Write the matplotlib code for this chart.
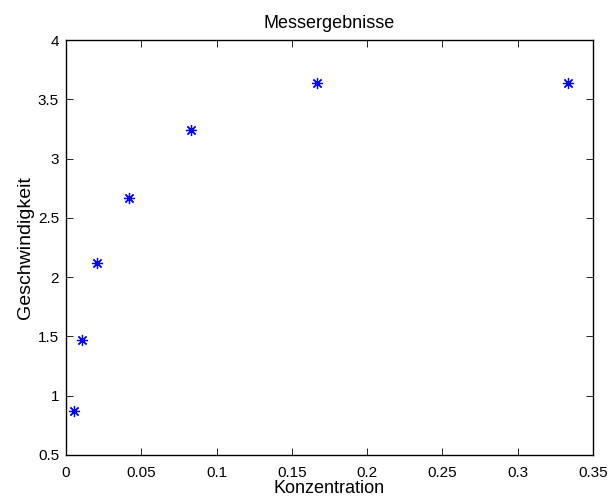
import matplotlib
matplotlib.use("Agg")
import matplotlib.pyplot as plt

plt.rcParams['font.family'] = ['Liberation Sans', 'DejaVu Sans']

konzentration = [1/3, 1/6, 1/12, 1/24, 1/48, 1/96, 1/192]
geschwindigkeit = [3.64, 3.64, 3.24, 2.67, 2.12, 1.47, 0.87]

xticks = [0, 0.05, 0.1, 0.15, 0.2, 0.25, 0.3, 0.35]
xticklabels = ['0', '0.05', '0.1', '0.15', '0.2', '0.25', '0.3', '0.35']
yticks = [0.5, 1, 1.5, 2, 2.5, 3, 3.5, 4]
yticklabels = ['0.5', '1', '1.5', '2', '2.5', '3', '3.5', '4']

fig = plt.figure(figsize=(6.08, 5.0), dpi=100)
ax = fig.add_axes([66/608, 1 - 455/500, (593 - 66)/608, (455 - 40)/500])

# eight-spoke asterisk markers
ax.plot(konzentration, geschwindigkeit, linestyle='none', marker=(8, 2, 0),
        color='blue', markersize=8, markeredgewidth=0.9)

ax.set_xlim(0, 0.35)
ax.set_ylim(0.5, 4)
ax.set_xticks(xticks)
ax.set_xticklabels(xticklabels)
ax.set_yticks(yticks)
ax.set_yticklabels(yticklabels)
ax.tick_params(direction='in', length=5, width=0.6, labelsize=11,
               top=True, right=True)
ax.tick_params(axis='x', pad=8)
ax.tick_params(axis='y', pad=5)
for s in ax.spines.values():
    s.set_linewidth(1.0)

ax.set_title('Messergebnisse', fontsize=13, pad=9)
ax.set_xlabel('Konzentration', fontsize=13, labelpad=0)
ax.set_ylabel('Geschwindigkeit', fontsize=14, labelpad=3)

fig.savefig('out.png', dpi=100)
